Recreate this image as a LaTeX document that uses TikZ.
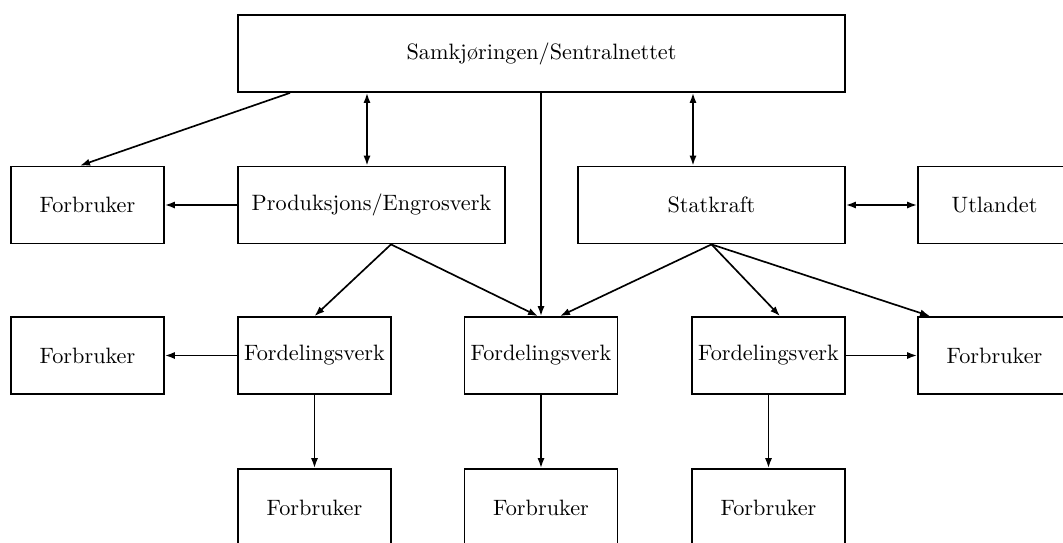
\documentclass[tikz,border=0pt]{standalone}
\usetikzlibrary{arrows.meta,calc}
\tikzset{
  boks/.style={draw, line width=0.8pt, inner sep=1pt, minimum height=34.65pt},
  pil/.style={line width=0.75pt, -{Latex[length=4.5pt,width=3.2pt]}},
  dobbel/.style={line width=0.75pt, {Latex[length=4.5pt,width=3.2pt]}-{Latex[length=4.5pt,width=3.2pt]}}
}
\begin{document}
\begin{tikzpicture}[x=0.45pt,y=-0.45pt]
  \useasboundingbox (0,0) rectangle (1063,542);
  \clip (0,0) rectangle (1063,542);
  % toppnivaa
  \node[boks, minimum width=273.15pt] (sam) at (541.5,53.5) {Samkjøringen/Sentralnettet};
  % andre rad
  \node[boks, minimum width=68.85pt] (forb1) at (87.5,205) {Forbruker};
  \node[boks, minimum width=120.15pt] (prod) at (371.5,205) {Produksjons/Engrosverk};
  \node[boks, minimum width=120.15pt] (stat) at (711.5,205) {Statkraft};
  \node[boks, minimum width=68.85pt] (utl) at (994.5,205) {Utlandet};
  % tredje rad
  \node[boks, minimum width=68.85pt] (forb2) at (87.5,355.5) {Forbruker};
  \node[boks, minimum width=68.85pt] (ford1) at (314.5,355.5) {Fordelingsverk};
  \node[boks, minimum width=68.85pt] (ford2) at (541,355.5) {Fordelingsverk};
  \node[boks, minimum width=68.85pt] (ford3) at (768.5,355.5) {Fordelingsverk};
  \node[boks, minimum width=68.85pt] (forb3) at (994.5,355.5) {Forbruker};
  % nederste rad
  \node[boks, minimum width=68.85pt] (forb4) at (314.5,507.5) {Forbruker};
  \node[boks, minimum width=68.85pt] (forb5) at (541,507.5) {Forbruker};
  \node[boks, minimum width=68.85pt] (forb6) at (768.5,507.5) {Forbruker};

  \draw[pil] ($(sam.south)+(-251.5,0)$) -- ($(forb1.north)+(-7.5,0)$);
  \draw[dobbel] ($(prod.north)+(-4.5,0)$) -- ($(prod.north |- sam.south)+(-4.5,0)$);
  \draw[pil] (ford2.north |- sam.south) -- (ford2.north);
  \draw[dobbel] ($(stat.north)+(-18.5,0)$) -- ($(stat.north |- sam.south)+(-18.5,0)$);
  \draw[pil] (prod.west) -- (forb1.east);
  \draw[dobbel] (stat.east) -- (utl.west);

  \draw[pil] ($(prod.south)+(19.5,0)$) -- (ford1.north);
  \draw[pil] ($(prod.south)+(19.5,0)$) -- ($(ford2.north)+(-3,0)$);
  \draw[pil] (stat.south) -- ($(ford2.north)+(19,0)$);
  \draw[pil] (stat.south) -- ($(ford3.north)+(11.5,0)$);
  \draw[pil] (stat.south) -- ($(forb3.north)+(-64.5,0)$);
  \draw[pil] (ford1.west) -- (forb2.east);
  \draw[pil] (ford3.east) -- (forb3.west);

  \foreach \fra/\til in {ford1/forb4, ford2/forb5, ford3/forb6}
    \draw[pil] (\fra.south) -- (\til.north);
\end{tikzpicture}
\end{document}
